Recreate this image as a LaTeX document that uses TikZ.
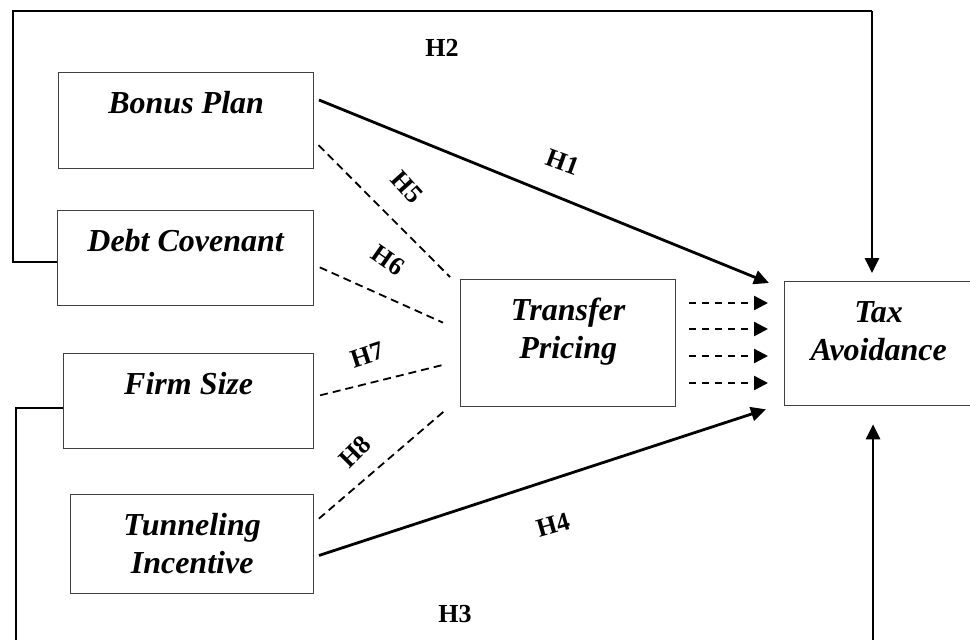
\documentclass[tikz,border=0pt]{standalone}
\usepackage{fontspec}
\setmainfont{Liberation Serif}
\usetikzlibrary{calc,arrows.meta}

\tikzset{
  var/.style={draw=black!75, line width=0.65pt, anchor=north west, inner xsep=0pt, inner ysep=0pt,
    align=center, text height=20.5pt, font=\bfseries\itshape\fontsize{16}{19}\selectfont},
  var2/.style={var, text height=39.5pt},
  hyp/.style={inner sep=0pt, font=\bfseries\fontsize{13}{15}\selectfont},
  solidar/.style={line width=1.4pt, -{Triangle[length=7.5pt,width=7pt]}},
  dashar/.style={line width=1.2pt, dash pattern=on 3.5pt off 3pt, -{Triangle[length=7pt,width=7pt]}},
  dashln/.style={line width=0.9pt, dash pattern=on 4pt off 2.5pt, shorten <=3pt},
  fb/.style={line width=0.6pt}
}

\begin{document}
\begin{tikzpicture}[x=0.5pt,y=-0.5pt]
	%%%%% START %%%%%
	\useasboundingbox (0,0) rectangle (970,639);

	% variables
	\node[var, minimum width=127.5pt, text depth=27.5pt] (bonus) at (58,72) {Bonus Plan};
	\node[var, minimum width=128pt, text depth=27pt] (debt) at (57,210) {Debt Covenant};
	\node[var, minimum width=125pt, text depth=27pt] (firm) at (63,353) {Firm Size};
	\node[var2, minimum width=121.5pt, text depth=10pt] (tunnel) at (70,494) {Tunneling\\Incentive};
	\node[var2, minimum width=107.5pt, text depth=24pt] (transfer) at (460,279) {Transfer\\Pricing};
	\node[var2, minimum width=94pt, text depth=22.5pt] (tax) at (784,281) {Tax\\Avoidance};

	% direct paths
	\draw[solidar, shorten <=2.5pt] (bonus.10) -- ($(tax.north west)+(-15,2)$);
	\draw[solidar, shorten <=2.5pt] (tunnel.354) -- ($(tax.south west)+(-18,3)$);

	% moderated paths
	\draw[dashln] (bonus.351.5) -- ($(transfer.north west)+(-10,-2)$);
	\draw[dashln] (debt.357.5) -- ($(transfer.west)+(-17,-20.5)$);
	\draw[dashln] (firm.2.5) -- ($(transfer.west)+(-16,21.5)$);
	\draw[dashln] (tunnel.10) -- ($(transfer.south west)+(-16,4)$);

	\foreach \y in {303,329,356,383}
		\draw[dashar, shorten <=6.5pt, shorten >=8pt] (transfer.east |- 0,\y) -- (tax.west |- 0,\y);

	% outer lines
	\coordinate (topR) at (872,11);
	\coordinate (botR) at (873,645);
	\draw[fb] (debt.west |- 0,262) -| (13,11) -- (topR);
	\draw[solidar, shorten >=4pt] (topR) -- (topR |- tax.north);
	\draw[fb] (firm.west |- 0,408) -| (16,645);
	\draw[solidar, shorten >=9pt] (botR) -- (botR |- tax.south);

	% hypotheses
	\node[hyp, rotate=-20] (h1) at (563,162) {H1};
	\node[hyp] (h2) at (442,48) {H2};
	\node[hyp] (h3) at (455,614) {H3};
	\node[hyp, rotate=16] (h4) at (553,525) {H4};
	\node[hyp, rotate=-48] (h5) at (407,187) {H5};
	\node[hyp, rotate=-35] (h6) at (388,260) {H6};
	\node[hyp, rotate=18] (h7) at (367,355) {H7};
	\node[hyp, rotate=45] (h8) at (355,452) {H8};

	%%%%% END %%%%%
\end{tikzpicture}
\end{document}
